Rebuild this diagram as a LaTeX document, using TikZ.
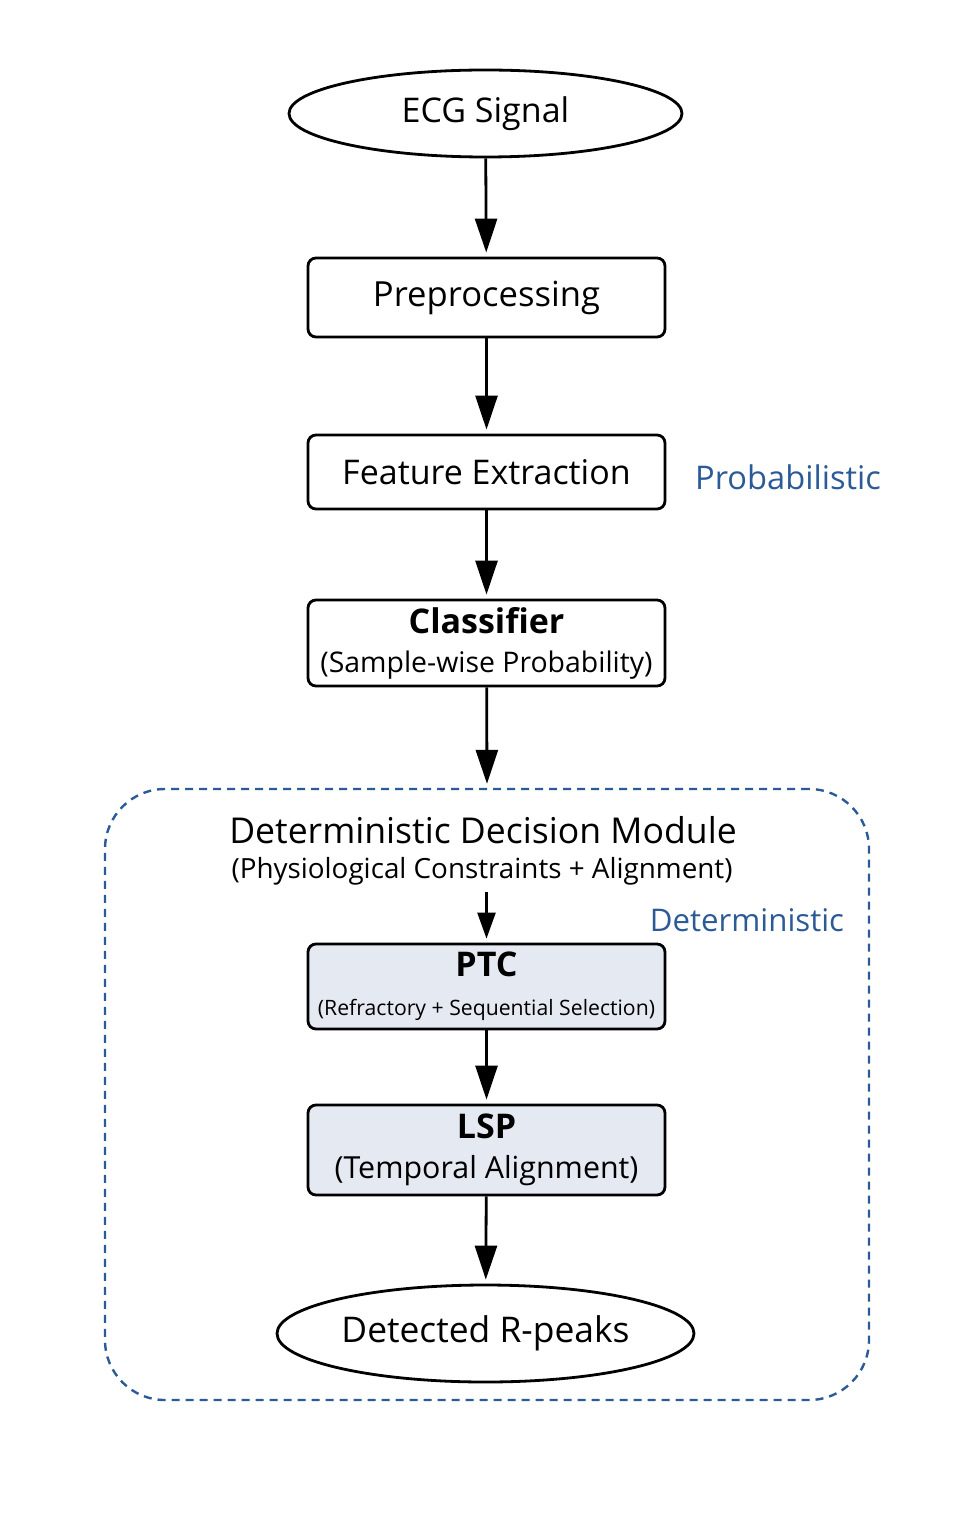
\documentclass[tikz,border=0pt]{standalone}
\usepackage{fontspec}
\setmainfont{Open Sans}
\usetikzlibrary{arrows.meta,shapes.geometric}

\definecolor{tagblue}{HTML}{2B5A97}
\definecolor{detfill}{HTML}{E5EAF2}

\newcommand{\fsz}[1]{\fontsize{#1}{1.2\dimexpr#1pt\relax}\selectfont}

\begin{document}
\begin{tikzpicture}[x=0.5pt,y=-0.5pt,
	box/.style={draw, line width=1.4pt, rounded corners=4pt, minimum width=178.5pt, align=center, inner sep=2pt},
	oval/.style={draw, ellipse, line width=1.4pt, inner sep=0pt},
	flow/.style={line width=1.4pt, shorten >=2pt, -{Triangle[width=11pt,length=17pt]}},
	tag/.style={text=tagblue, font=\fsz{16.3}}]

	% frame of the page
	\useasboundingbox (0,0) rectangle (973,1524);

	% probabilistic part
	\node[oval, minimum width=196.5pt, minimum height=43.5pt, font=\fsz{17}] (ecg) at (485.5,113.5) {ECG Signal};
	\node[box, minimum height=39.5pt, font=\fsz{17.3}] (pre) at (486.5,297.5) {Preprocessing};
	\node[box, minimum height=37pt, font=\fsz{17}] (feat) at (486.5,472) {Feature Extraction};
	\node[box, minimum height=43pt, font=\fsz{14.2}] (cls) at (486.5,643)
		{{\fsz{17}\bfseries Classifier}\\[2.5pt](Sample-wise Probability)};
	\node[tag] (prob) at (788,477) {Probabilistic};

	% deterministic module
	\node[draw=tagblue, line width=1.2pt, dash pattern=on 4pt off 3pt, rounded corners=30pt,
		minimum width=382pt, minimum height=305.5pt] (module) at (487,1094.5) {};
	\node[font=\fsz{17.8}] (title) at (483,830) {Deterministic Decision Module};
	\node[font=\fsz{13.9}] (sub) at (482,871) {(Physiological Constraints + Alignment)};
	\node[tag, font=\fsz{15.6}] (det) at (747,920) {Deterministic};
	\node[box, fill=detfill, minimum height=42.5pt, font=\fsz{10.6}] (ptc) at (486.5,986.5)
		{{\fsz{17}\bfseries PTC}\\[7pt](Refractory + Sequential Selection)};
	\node[box, fill=detfill, minimum height=45pt, font=\fsz{15.2}] (lsp) at (486.5,1150)
		{{\fsz{17}\bfseries LSP}\\[1.5pt](Temporal Alignment)};
	\node[oval, minimum width=208.5pt, minimum height=48.5pt, font=\fsz{17.7}] (peaks) at (485.5,1333.5) {Detected R-peaks};

	% arrows
	\draw[flow] (ecg) -- (pre);
	\draw[flow] (pre) -- (feat);
	\draw[flow] (feat) -- (cls);
	\draw[flow] (cls) -- (module.north);
	\draw[flow, line width=1.2pt, -{Triangle[width=9pt,length=13pt]}] (sub.south -| ptc.north) -- (ptc);
	\draw[flow] (ptc) -- (lsp);
	\draw[flow] (lsp) -- (peaks);

\end{tikzpicture}
\end{document}
